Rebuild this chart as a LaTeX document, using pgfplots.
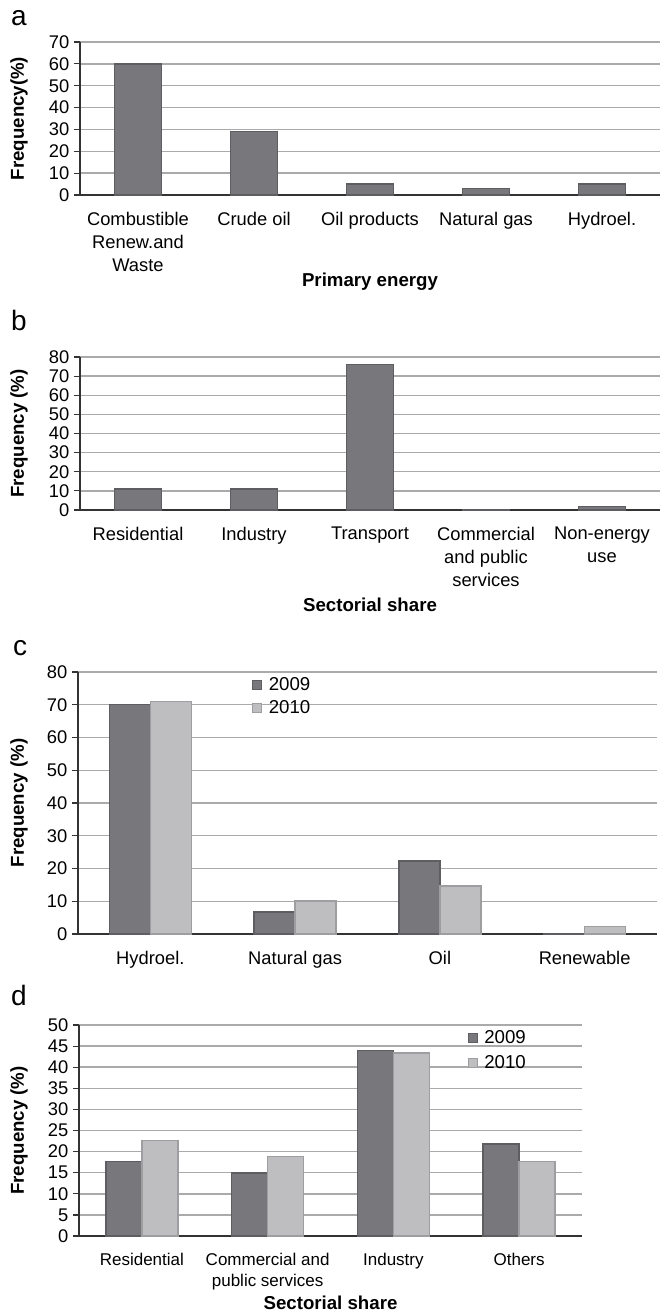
\documentclass[border=0pt]{standalone}
\usepackage{fontspec}
\setmainfont{Liberation Sans}
\usepackage{pgfplots}
\pgfplotsset{compat=1.18}
\definecolor{dkbar}{HTML}{78787C}
\definecolor{dkedge}{HTML}{5E5E62}
\definecolor{ltbar}{HTML}{BEBEC0}
\definecolor{ltedge}{HTML}{9E9EA0}
\definecolor{gridc}{HTML}{AAAAAA}
\definecolor{axc}{HTML}{333333}
\newcommand{\lblfont}{\bfseries\fontsize{14}{17}\selectfont}
\pgfplotsset{
  panel/.style={
    scale only axis, anchor=south west,
    axis x line*=bottom, axis y line*=left,
    axis line style={-, axc, line width=0.9pt},
    ymajorgrids, grid style={gridc, line width=1.1pt},
    tick align=outside, major tick length=4.5pt, minor tick length=4.5pt,
    ytick style={axc, line width=0.9pt},
    xtick style={draw=none},
    minor x tick style={axc, line width=0.9pt},
    ymin=0,
    /pgf/number format/assume math mode=true,
    tick label style={font=\fontsize{13.75}{17.25}\selectfont},
    xticklabel style={align=center, anchor=north, inner sep=0pt, yshift=-8pt},
    legend cell align=left,
  },
  sqleg/.style={every axis plot post/.append style={
    legend image code/.code={\draw[##1, line width=0.6pt] (0pt,-3.3pt) rectangle (6.6pt,3.3pt);}}},
  dk/.style={fill=dkbar, draw=dkedge, line width=1pt},
  lt/.style={fill=ltbar, draw=ltedge, line width=1pt},
}
\begin{document}
\begin{tikzpicture}
\useasboundingbox (0,0) rectangle (495.75pt,-985.5pt);
% panel letters
\node[font=\fontsize{21}{24}\selectfont] at (14.25pt,-13.5pt) {a};
\node[font=\fontsize{21}{24}\selectfont] at (14.25pt,-240pt) {b};
\node[font=\fontsize{21}{24}\selectfont] at (15pt,-486pt) {c};
\node[font=\fontsize{21}{24}\selectfont] at (14.25pt,-746.25pt) {d};

% ---------- a ----------
\begin{axis}[panel, at={(60pt,-146.25pt)}, width=435pt, height=114.75pt,
  ymax=70, ytick={0,10,...,70},
  xmin=-0.5, xmax=4.5, xtick={0,...,4},
  minor xtick={-0.5,0.5,...,4.5},
  xticklabels={{Combustible\\Renew.and\\Waste},{Crude oil},{Oil products},{Natural gas},{Hydroel.}},
  ylabel={Frequency(\%)}, xlabel={Primary energy},
  every axis y label/.style={at={(axis description cs:-0.1052,0.5)}, rotate=90, anchor=center, font=\lblfont},
  every axis x label/.style={at={(axis description cs:0.5,-0.5686)}, anchor=center, font=\lblfont},
  ybar, bar width=35.25pt]
\addplot[dk] coordinates {(0,60) (1,29) (2,5) (3,3) (4,5)};
\end{axis}

% ---------- b ----------
\begin{axis}[panel, at={(60pt,-382.5pt)}, width=435pt, height=114.75pt,
  ymax=80, ytick={0,10,...,80},
  xmin=-0.5, xmax=4.5, xtick={0,...,4},
  minor xtick={-0.5,0.5,...,4.5},
  xticklabels={{Residential},{Industry},{Transport},{Commercial\\and public\\services},{Non-energy\\use}},
  ylabel={Frequency (\%)}, xlabel={Sectorial share},
  every axis y label/.style={at={(axis description cs:-0.1052,0.5)}, rotate=90, anchor=center, font=\lblfont},
  every axis x label/.style={at={(axis description cs:0.5,-0.6209)}, anchor=center, font=\lblfont},
  ybar, bar width=35.25pt]
\addplot[dk] coordinates {(0,11) (1,11) (2,76) (3,0.2) (4,2)};
\end{axis}

% ---------- c ----------
\begin{axis}[panel, at={(58.5pt,-700.5pt)}, width=434.25pt, height=196.5pt,
  ymax=80, ytick={0,10,...,80},
  xmin=-0.5, xmax=3.5, xtick={0,...,3},
  minor xtick={-0.5,0.5,...,3.5},
  xticklabels={{Hydroel.},{Natural gas},{Oil},{Renewable}},
  ylabel={Frequency (\%)},
  every axis y label/.style={at={(axis description cs:-0.1019,0.5)}, rotate=90, anchor=center, font=\lblfont},
  ybar=0pt, bar width=30.75pt, sqleg,
  legend style={draw=none, fill=none, at={(axis description cs:0.294,1.0)}, anchor=north west,
    font=\fontsize{14}{17}\selectfont, row sep=2pt, column sep=3pt}]
\addplot[dk] coordinates {(0,70) (1,6.7) (2,22.3) (3,0.2)};
\addplot[lt] coordinates {(0,70.9) (1,10.1) (2,14.7) (3,2.2)};
\legend{2009,2010}
\end{axis}

% ---------- d ----------
\begin{axis}[panel, at={(59.25pt,-927pt)}, width=377.25pt, height=158.25pt,
  ymax=50, ytick={0,5,...,50},
  xmin=-0.5, xmax=3.5, xtick={0,...,3},
  minor xtick={-0.5,0.5,...,3.5},
  xticklabel style={font=\fontsize{12.75}{15.75}\selectfont},
  xticklabels={{Residential},{Commercial and\\public services},{Industry},{Others}},
  ylabel={Frequency (\%)}, xlabel={Sectorial share},
  every axis y label/.style={at={(axis description cs:-0.1193,0.5)}, rotate=90, anchor=center, font=\lblfont},
  every axis x label/.style={at={(axis description cs:0.5,-0.3175)}, anchor=center, font=\lblfont},
  ybar=0pt, bar width=27pt, sqleg,
  legend style={draw=none, fill=none, at={(axis description cs:0.765,1.0)}, anchor=north west,
    font=\fontsize{14}{17}\selectfont, row sep=3pt, column sep=3pt}]
\addplot[dk] coordinates {(0,17.6) (1,14.9) (2,43.9) (3,21.8)};
\addplot[lt] coordinates {(0,22.7) (1,18.8) (2,43.4) (3,17.6)};
\legend{2009,2010}
\end{axis}
\end{tikzpicture}
\end{document}
